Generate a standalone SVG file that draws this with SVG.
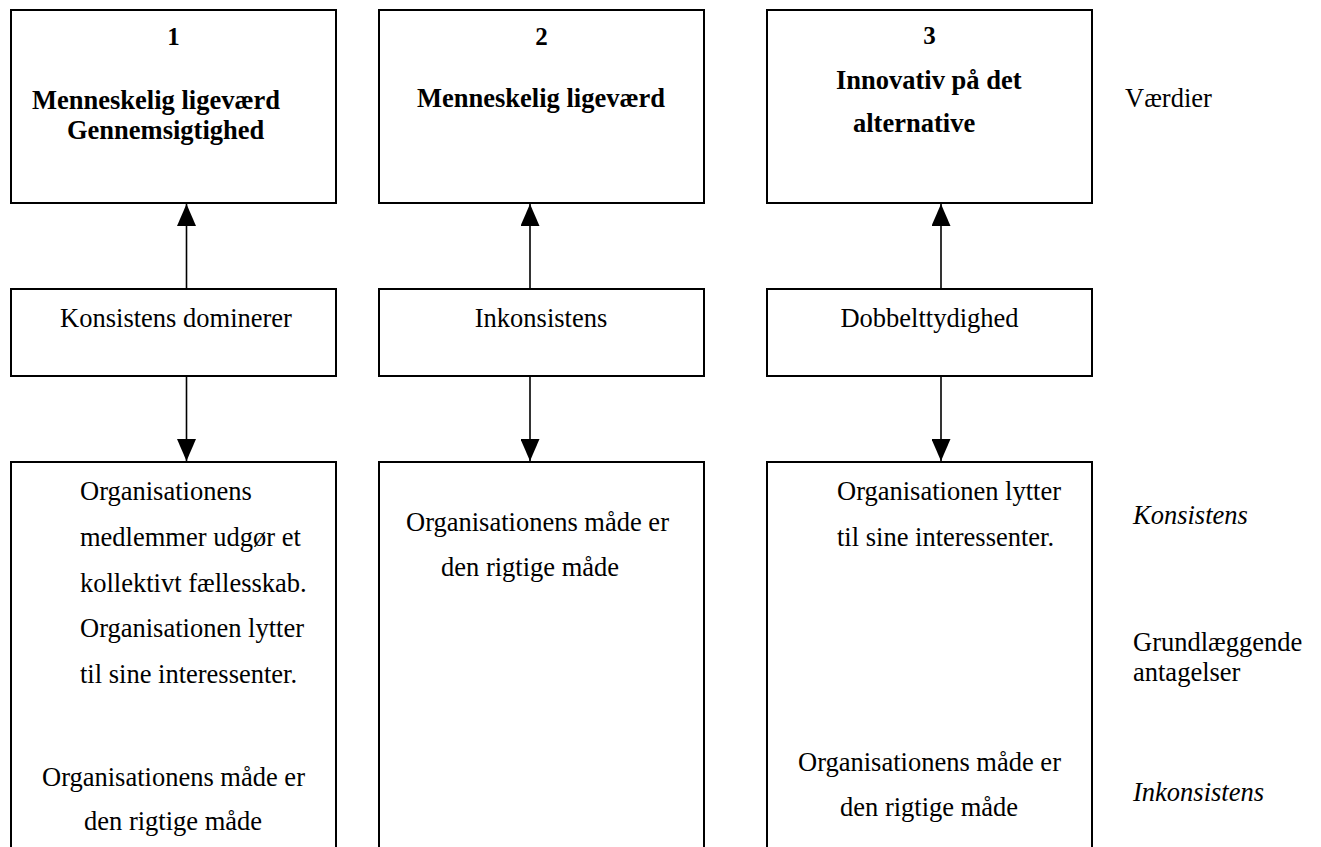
<svg xmlns="http://www.w3.org/2000/svg" width="1321" height="847" viewBox="0 0 1321 847">
  <style>
    .box { fill: #fff; stroke: #000; stroke-width: 2; }
    .t { font-family: "Liberation Serif", "Times New Roman", "DejaVu Serif", serif; font-size: 26.5px; fill: #000; }
    .b { font-weight: bold; }
    .c { text-anchor: middle; }
    .i { font-style: italic; }
    .num { font-size: 25px; }
    .link { stroke: #000; stroke-width: 1.6; fill: none; }
  </style>
  <defs>
    <marker id="head" viewBox="0 0 22 19" refX="22" refY="9.5" markerWidth="22" markerHeight="19" markerUnits="userSpaceOnUse" orient="auto">
      <path d="M0,0 L22,9.5 L0,19 Z" fill="#000"/>
    </marker>
  </defs>
  <rect width="1321" height="847" fill="#fff"/>

  <!-- values row -->
  <g id="value-1">
    <rect class="box" x="11" y="10" width="325" height="193"/>
    <text class="t b c num" x="173.5" y="45">1</text>
    <text class="t b" x="32" y="109">Menneskelig ligeværd</text>
    <text class="t b" x="67" y="139">Gennemsigtighed</text>
  </g>
  <g id="value-2">
    <rect class="box" x="379" y="10" width="325" height="193"/>
    <text class="t b c num" x="541.5" y="45">2</text>
    <text class="t b" x="417" y="107">Menneskelig ligeværd</text>
  </g>
  <g id="value-3">
    <rect class="box" x="767" y="10" width="325" height="193"/>
    <text class="t b c num" x="929.5" y="44">3</text>
    <text class="t b" x="836" y="89">Innovativ på det</text>
    <text class="t b" x="853" y="132">alternative</text>
  </g>

  <!-- middle row -->
  <g id="mid-1">
    <rect class="box" x="11" y="289" width="325" height="87"/>
    <text class="t c" x="176" y="327">Konsistens dominerer</text>
  </g>
  <g id="mid-2">
    <rect class="box" x="379" y="289" width="325" height="87"/>
    <text class="t c" x="541" y="327">Inkonsistens</text>
  </g>
  <g id="mid-3">
    <rect class="box" x="767" y="289" width="325" height="87"/>
    <text class="t c" x="929.5" y="327">Dobbelttydighed</text>
  </g>

  <!-- assumptions row -->
  <g id="base-1">
    <rect class="box" x="11" y="462" width="325" height="400"/>
    <text class="t" x="80" y="500">Organisationens</text>
    <text class="t" x="80" y="546">medlemmer udgør et</text>
    <text class="t" x="80" y="592">kollektivt fællesskab.</text>
    <text class="t" x="80" y="637">Organisationen lytter</text>
    <text class="t" x="80" y="683">til sine interessenter.</text>
    <text class="t" x="42" y="786">Organisationens måde er</text>
    <text class="t" x="84" y="830">den rigtige måde</text>
  </g>
  <g id="base-2">
    <rect class="box" x="379" y="462" width="325" height="400"/>
    <text class="t" x="406" y="531">Organisationens måde er</text>
    <text class="t" x="441" y="576">den rigtige måde</text>
  </g>
  <g id="base-3">
    <rect class="box" x="767" y="462" width="325" height="400"/>
    <text class="t" x="837" y="500">Organisationen lytter</text>
    <text class="t" x="837" y="546">til sine interessenter.</text>
    <text class="t" x="798" y="771">Organisationens måde er</text>
    <text class="t" x="840" y="816">den rigtige måde</text>
  </g>

  <!-- level labels -->
  <g id="labels">
    <text class="t" x="1125" y="107">Værdier</text>
    <text class="t i" x="1133" y="524">Konsistens</text>
    <text class="t" x="1133" y="651">Grundlæggende</text>
    <text class="t" x="1133" y="681">antagelser</text>
    <text class="t i" x="1133" y="801">Inkonsistens</text>
  </g>

  <!-- connectors -->
  <g id="connectors">
    <line class="link" x1="186.5" y1="289" x2="186.5" y2="204" marker-end="url(#head)"/>
    <line class="link" x1="186.5" y1="376" x2="186.5" y2="461" marker-end="url(#head)"/>
    <line class="link" x1="530" y1="289" x2="530" y2="204" marker-end="url(#head)"/>
    <line class="link" x1="530" y1="376" x2="530" y2="461" marker-end="url(#head)"/>
    <line class="link" x1="941" y1="289" x2="941" y2="204" marker-end="url(#head)"/>
    <line class="link" x1="941" y1="376" x2="941" y2="461" marker-end="url(#head)"/>
  </g>
</svg>
